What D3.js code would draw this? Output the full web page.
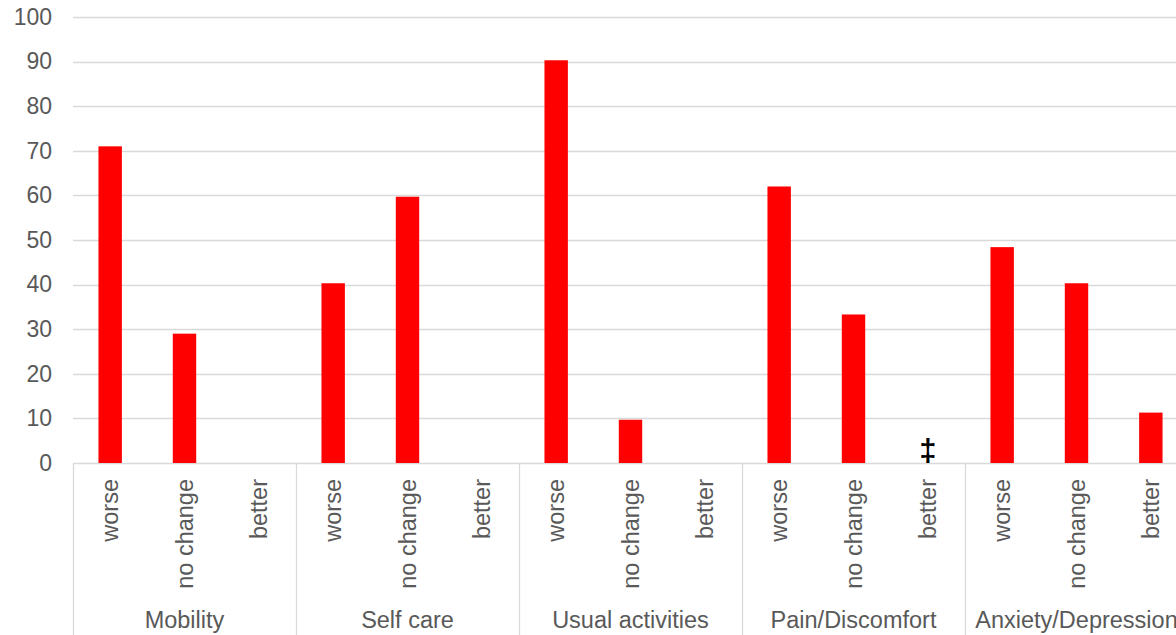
<!DOCTYPE html>
<html>
<head>
<meta charset="utf-8">
<script src="https://cdn.jsdelivr.net/npm/d3@7"></script>
<style>
  html, body { margin: 0; padding: 0; background: #fff; overflow: hidden; }
  svg { display: block; font-family: "Liberation Sans", Arial, sans-serif; }
</style>
</head>
<body>
<svg id="chart" width="1176" height="635"></svg>
<script>
// EQ-5D dimensions and direction of change
const groups = ["Mobility", "Self care", "Usual activities", "Pain/Discomfort", "Anxiety/Depression"];
const changes = ["worse", "no change", "better"];

// Percentages per dimension (null = no bar)
const worse    = [71, 40.3, 90.3, 62, 48.4];
const noChange = [29, 59.7, 9.7, 33.3, 40.3];
const better   = [null, null, null, null, 11.3];
// Suppressed-value markers for the "better" column
const betterFlags = ["", "", "", "\u2021", ""];

const yTicks = [0, 10, 20, 30, 40, 50, 60, 70, 80, 90, 100];

const series = [worse, noChange, better];
const rows = [];
groups.forEach((g, gi) => {
  changes.forEach((c, ci) => {
    rows.push({ group: g, change: c, value: series[ci][gi], flag: ci === 2 ? betterFlags[gi] : "" });
  });
});

const svg = d3.select("#chart");
const margin = { left: 73, top: 17, bottom: 463 };
const groupWidth = 223;
const plotRight = margin.left + groupWidth * groups.length;

const x0 = d3.scaleBand().domain(groups).range([margin.left, plotRight]).padding(0);
const x1 = d3.scaleBand().domain(changes).range([0, x0.bandwidth()])
  .paddingInner(0.685).paddingOuter(0.3425);
const y = d3.scaleLinear().domain([0, 100]).range([margin.bottom, margin.top]);

const gridColor = "#d9d9d9";
const textColor = "#595959";

// Horizontal gridlines
svg.append("g")
  .selectAll("line")
  .data(yTicks)
  .join("line")
  .attr("x1", margin.left).attr("x2", plotRight)
  .attr("y1", d => Math.round(y(d)) + 0.5).attr("y2", d => Math.round(y(d)) + 0.5)
  .attr("stroke", gridColor).attr("stroke-width", 1.3);

// Y axis labels
const yAxis = d3.axisLeft(y).tickValues(yTicks).tickSize(0).tickPadding(0);
const yg = svg.append("g").attr("transform", "translate(52,0)").call(yAxis);
yg.select(".domain").remove();
yg.selectAll("text")
  .attr("fill", textColor)
  .attr("font-size", 23)
  .attr("font-family", "'Liberation Sans', Arial, sans-serif");

// Bars
svg.append("g")
  .selectAll("rect")
  .data(rows.filter(d => d.value != null))
  .join("rect")
  .attr("x", d => x0(d.group) + x1(d.change))
  .attr("width", x1.bandwidth())
  .attr("y", d => y(d.value))
  .attr("height", d => y(0) - y(d.value))
  .attr("fill", "#ff0000");

// Suppression markers
svg.append("g")
  .selectAll("text")
  .data(rows.filter(d => d.flag))
  .join("text")
  .attr("x", d => x0(d.group) + x1(d.change) + x1.bandwidth() / 2)
  .attr("y", y(0) - 2)
  .attr("text-anchor", "middle")
  .attr("font-size", 31)
  .attr("font-weight", "bold")
  .attr("fill", "#000")
  .text(d => d.flag);

// Category group separators
svg.append("g")
  .selectAll("line")
  .data(groups.concat([null]))
  .join("line")
  .attr("x1", d => (d ? x0(d) : plotRight) + 0.5)
  .attr("x2", d => (d ? x0(d) : plotRight) + 0.5)
  .attr("y1", y(0)).attr("y2", 635)
  .attr("stroke", gridColor).attr("stroke-width", 1.3);

// Rotated change labels
svg.append("g")
  .selectAll("text")
  .data(rows)
  .join("text")
  .attr("transform", d => `translate(${x0(d.group) + x1(d.change) + x1.bandwidth() / 2 + 8},479) rotate(-90)`)
  .attr("text-anchor", "end")
  .attr("font-size", 23.5)
  .attr("fill", textColor)
  .text(d => d.change);

// Group labels
svg.append("g")
  .selectAll("text")
  .data(groups)
  .join("text")
  .attr("x", d => x0(d) + x0.bandwidth() / 2)
  .attr("y", 628)
  .attr("text-anchor", "middle")
  .attr("font-size", 23.5)
  .attr("fill", textColor)
  .text(d => d);
</script>
</body>
</html>
